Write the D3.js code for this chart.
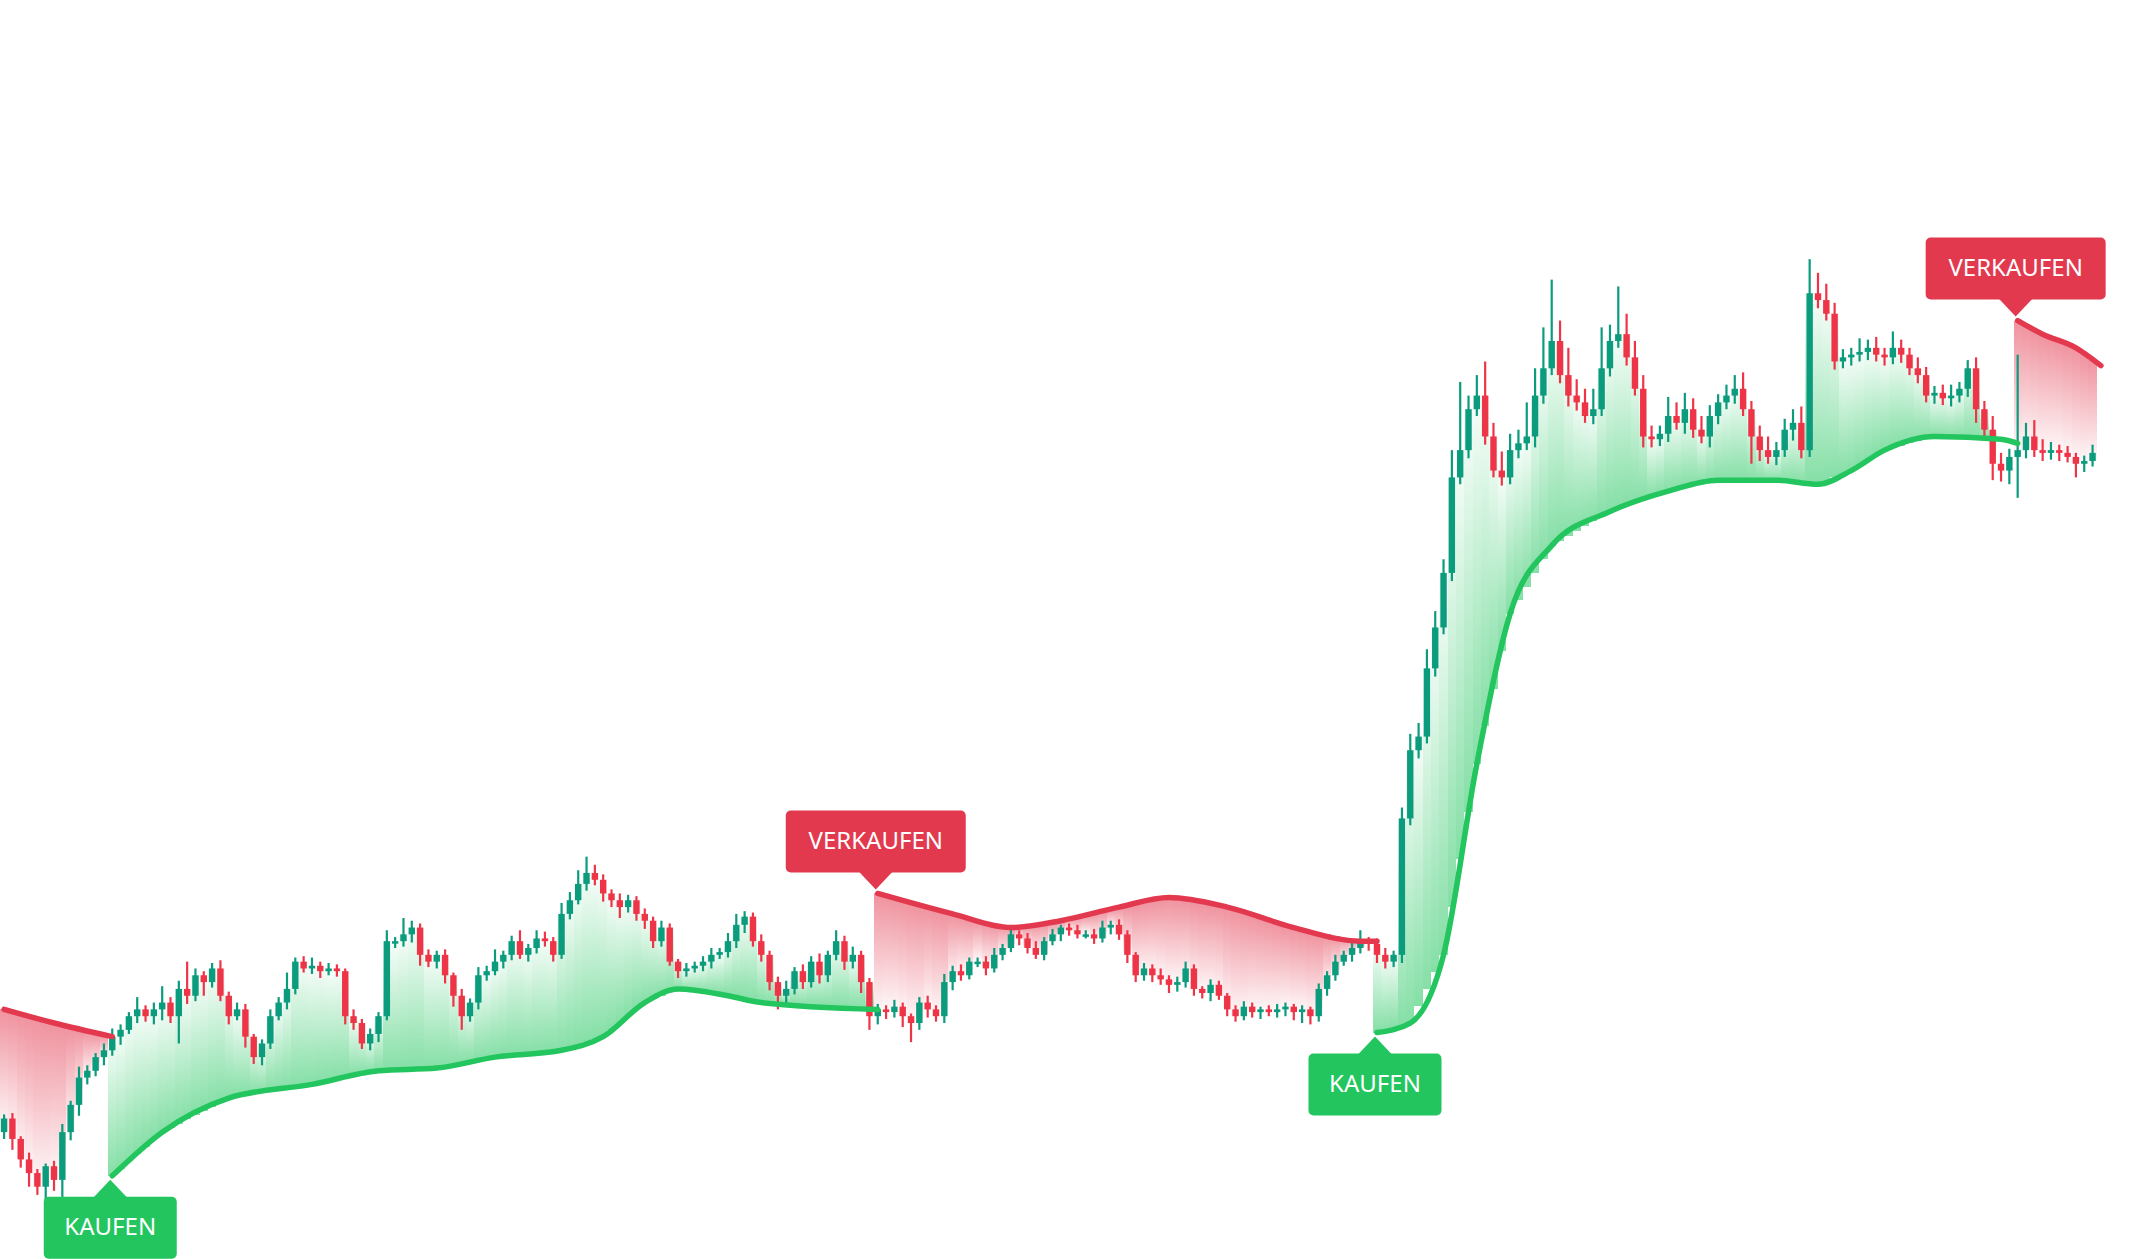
<!DOCTYPE html>
<html>
<head>
<meta charset="utf-8">
<script src="https://cdn.jsdelivr.net/npm/d3@7"></script>
<style>
  body { margin: 0; background: #fff; }
  svg { display: block; font-family: "Noto Sans", "Open Sans", sans-serif; }
</style>
</head>
<body>
<svg id="chart"></svg>
<script>
// Supertrend style candlestick chart
const width = 2138;
const height = 1259;

// closing prices, one per candle (open = previous close)
const closes = [
  103,88,73,63,53,68,58,93,113,133,138,148,153,
  163,168,178,183,178,183,188,178,198,193,208,203,213,
  193,178,183,163,148,158,178,188,198,218,213,215,211,
  213,211,178,173,158,165,178,233,233,238,243,223,218,
  223,208,193,178,188,208,211,218,223,233,223,228,235,
  233,223,253,263,275,283,278,268,263,258,263,253,248,
  233,243,218,211,213,215,218,223,225,233,245,251,233,
  223,203,193,198,211,203,218,208,223,233,218,223,203,
  178,183,181,185,178,173,188,183,178,203,211,208,218,
  218,213,223,228,238,235,228,223,233,238,243,241,238,
  238,235,243,245,238,223,208,213,208,205,201,203,213,
  198,195,201,193,183,178,185,181,183,181,183,185,181,
  183,178,198,208,218,223,228,233,231,223,218,223,
  323,373,383,433,463,503,573,593,623,633,603,578,573,
  593,598,603,633,653,673,648,633,628,618,623,653,673,
  678,661,638,603,601,605,618,613,623,608,603,618,628,
  633,638,623,603,593,588,593,608,613,593,708,703,693,
  658,661,663,665,668,663,661,668,663,653,648,633,635,
  631,633,638,653,623,608,583,578,588,593,603,593,591,
  593,591,588,583,585,591
];
const firstOpen = 93;

// wick length above the body / below the body
const wickUp = [
  3,4,2,5,3,2,4,6,3,8,4,3,5,
  6,4,3,9,3,5,12,4,6,20,5,3,4,
  6,3,5,4,2,3,5,4,12,3,4,6,3,
  4,3,2,5,3,4,3,8,3,12,5,3,4,
  3,4,2,5,3,6,4,9,3,4,8,3,6,
  5,3,8,6,10,12,6,4,3,5,4,3,4,
  3,5,3,2,4,3,4,5,3,6,8,4,3,
  5,3,4,6,3,5,4,6,3,8,4,6,3,
  3,4,3,5,3,2,4,5,3,6,4,5,3,
  3,4,5,3,4,3,4,5,3,4,2,3,4,
  3,4,5,3,4,3,2,4,3,5,3,4,5,
  3,2,4,3,2,3,4,3,2,3,4,3,2,
  3,2,4,3,5,3,4,8,3,4,5,3,
  8,12,10,14,12,10,20,50,10,15,25,10,14,
  12,10,25,20,30,45,15,20,12,10,15,30,12,
  35,15,12,10,8,6,14,10,12,8,10,8,6,
  8,10,12,6,8,10,6,8,10,12,25,15,12,
  8,6,5,10,6,8,5,12,6,5,8,6,5,
  6,8,5,6,8,6,10,8,6,70,10,12,8,
  6,4,5,3,4,6
];
const wickDown = [
  5,8,6,10,6,12,8,30,6,8,5,4,6,
  4,6,3,5,4,6,8,5,20,6,4,10,4,
  4,6,3,8,5,6,4,3,5,4,3,4,5,
  3,4,6,5,4,5,6,3,5,4,6,8,4,
  5,6,8,10,4,5,4,3,5,4,3,5,4,
  4,5,3,4,3,5,4,6,5,8,4,5,6,
  5,4,3,5,4,3,4,5,3,4,5,6,4,
  5,6,10,8,4,5,4,6,5,4,6,5,8,
  10,6,5,4,8,14,5,6,4,5,6,4,3,
  4,5,3,4,3,5,4,3,4,3,5,4,3,
  3,4,3,5,4,6,5,4,5,4,6,5,4,
  5,4,6,3,5,4,3,4,5,3,4,5,6,
  8,6,4,5,4,3,5,4,5,6,5,4,
  6,5,6,5,6,5,6,5,6,5,6,5,6,
  5,6,5,8,6,5,6,8,6,5,6,5,6,
  5,6,5,8,6,5,6,5,8,6,5,8,6,
  5,6,5,20,8,5,6,5,8,6,5,6,5,
  6,5,6,5,6,5,6,5,6,5,6,5,6,
  5,6,5,6,10,8,12,8,10,30,6,5,6,
  5,6,4,10,6,4
];

// trend line segments: [candle index, value] knots
const trendSegments = [
  { dir: "down", from: 0, to: 12, knots: [[0,183],[6,173],[13,163]] },
  { dir: "up", from: 13, to: 104, knots: [[13,61],[19,93],[27,118],[37,128],[45,138],[52,140],[59,148],[67,153],[72,163],[77,188],[81,198],[87,193],[91,188],[105,183]] },
  { dir: "down", from: 105, to: 164, knots: [[105,268],[114,253],[121,243],[127,248],[134,258],[140,265],[147,258],[155,243],[163,233],[165,233]] },
  { dir: "up", from: 165, to: 241, knots: [[165,166],[169,173],[173,223],[177,363],[181,473],[186,523],[193,548],[200,563],[206,571],[213,571],[218,568],[222,578],[226,593],[232,603],[240,601],[242,598]] },
  { dir: "down", from: 242, to: 251, knots: [[242,688],[245,678],[249,668],[252,655]] }
];

const signalIdx = [13, 105, 165, 242];
const signalText = ["KAUFEN", "VERKAUFEN", "KAUFEN", "VERKAUFEN"];
const signalDir = ["up", "down", "up", "down"];

const GREEN = "#22c55e", RED = "#e3394f", UPC = "#0b9b7d", DNC = "#ee3447";

const svg = d3.select("#chart").attr("width", width).attr("height", height);
const defs = svg.append("defs");

const candles = closes.map((c, i) => {
  const o = i === 0 ? firstOpen : closes[i - 1];
  return { i, o, c, h: Math.max(o, c) + wickUp[i], l: Math.min(o, c) - wickDown[i] };
});

const k = 1259 / 923;
const x = d3.scaleLinear().domain([0, 252]).range([3 * k, (3 + 252 * 6.1) * k]);
const y = d3.scaleLinear().domain([0, 923]).range([height, 0]);
const step = x(1) - x(0);

// gradients
[["gUp", GREEN, 1, 0], ["gDown", RED, 0, 1]].forEach(([id, col, y1, y2]) => {
  const g = defs.append("linearGradient").attr("id", id)
    .attr("x1", 0).attr("x2", 0).attr("y1", y1).attr("y2", y2);
  g.append("stop").attr("offset", 0).attr("stop-color", col).attr("stop-opacity", 0.55);
  g.append("stop").attr("offset", 1).attr("stop-color", col).attr("stop-opacity", 0.03);
});

const fillG = svg.append("g").attr("shape-rendering", "crispEdges");
const line = d3.line().x(d => x(d[0])).y(d => y(d[1])).curve(d3.curveMonotoneX);

trendSegments.forEach(seg => {
  const interp = d3.scaleLinear().domain(seg.knots.map(k => k[0])).range(seg.knots.map(k => k[1]));
  for (let i = seg.from; i <= seg.to; i++) {
    const d = candles[i];
    const lv = interp(i);
    const edge = seg.dir === "up" ? Math.max(d.o, d.c) : Math.min(d.o, d.c);
    const top = seg.dir === "up" ? Math.max(edge, lv) : lv;
    const bot = seg.dir === "up" ? lv : Math.min(edge, lv);
    if (top - bot < 0.5) continue;
    const x0 = Math.round(x(i - 0.5)), x1 = Math.round(x(i + 0.5));
    fillG.append("rect")
      .attr("x", x0).attr("width", x1 - x0)
      .attr("y", y(top)).attr("height", y(bot) - y(top))
      .attr("fill", seg.dir === "up" ? "url(#gUp)" : "url(#gDown)");
  }
});

// candles
const cg = svg.append("g").selectAll("g").data(candles).join("g");
cg.append("line")
  .attr("x1", d => x(d.i)).attr("x2", d => x(d.i))
  .attr("y1", d => y(d.h)).attr("y2", d => y(d.l))
  .attr("stroke", d => d.c >= d.o ? UPC : DNC).attr("stroke-width", 2.2);
cg.append("rect")
  .attr("x", d => x(d.i) - 3.2).attr("width", 6.4)
  .attr("y", d => y(Math.max(d.o, d.c)))
  .attr("height", d => Math.max(2.5, Math.abs(y(d.o) - y(d.c))))
  .attr("fill", d => d.c >= d.o ? UPC : DNC);

// trend lines
trendSegments.forEach(seg => {
  svg.append("path").attr("d", line(seg.knots))
    .attr("fill", "none").attr("stroke", seg.dir === "up" ? GREEN : RED)
    .attr("stroke-width", 5.5).attr("stroke-linecap", "round");
});

// signal labels
signalIdx.forEach((idx, n) => {
  const seg = trendSegments.find(s => s.from === idx);
  const tx = x(seg.knots[0][0]) - 2;
  const ty = y(seg.knots[0][1]);
  const up = signalDir[n] === "up";
  const col = up ? GREEN : RED;
  const w = signalText[n].length > 6 ? 180 : 133, h = 62, tri = 17, gap = 4;
  const g = svg.append("g");
  const boxY = up ? ty + gap + tri : ty - gap - tri - h;
  g.append("rect").attr("x", tx - w / 2).attr("y", boxY).attr("width", w).attr("height", h)
    .attr("rx", 5).attr("fill", col);
  const tipY = up ? ty + gap : ty - gap;
  const baseY = up ? boxY + 1 : boxY + h - 1;
  g.append("path").attr("d", `M${tx},${tipY}L${tx - tri},${baseY}L${tx + tri},${baseY}Z`).attr("fill", col);
  g.append("text").attr("x", tx).attr("y", boxY + h / 2 + 1)
    .attr("text-anchor", "middle").attr("dominant-baseline", "middle")
    .attr("fill", "#fff").attr("font-size", 24).text(signalText[n]);
});
</script>
</body>
</html>
